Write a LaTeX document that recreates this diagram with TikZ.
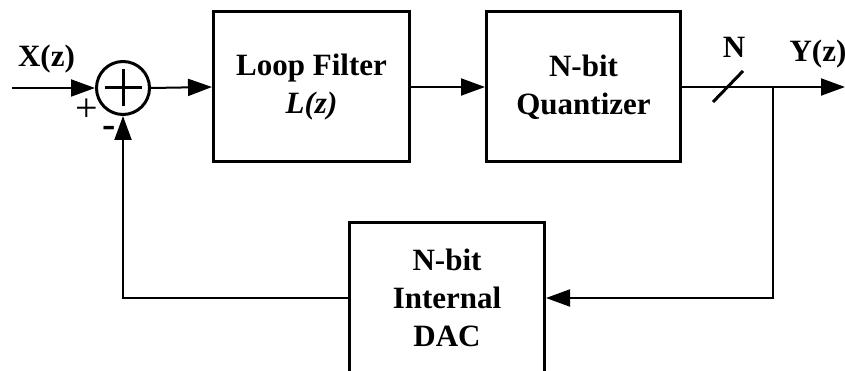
\documentclass[tikz,border=0pt]{standalone}
\usepackage{fontspec}
\setmainfont{Liberation Serif}
\usetikzlibrary{arrows.meta}
\begin{document}
\begin{tikzpicture}[x=1pt,y=-1pt,
  blk/.style={draw,line width=3pt,rectangle,minimum height=150pt,align=center,
    font=\fontsize{31}{38}\selectfont\bfseries},
  lbl/.style={font=\fontsize{31}{38}\selectfont\bfseries,anchor=base,inner sep=0pt},
  conn/.style={line width=2pt},
  arr/.style={conn,-{Triangle[length=24pt,width=17pt]}}]
\clip (0,0) rectangle (845,371);
\node[draw,circle,line width=3pt,minimum size=53pt,inner sep=0pt] (sum) at (123,88) {};
\draw[line width=3pt] ([xshift=-18.5pt]sum.center) -- ([xshift=18.5pt]sum.center)
  ([yshift=-18.5pt]sum.center) -- ([yshift=18.5pt]sum.center);
\node[blk,minimum width=196pt] (lf) at (311.5,87) {Loop Filter\\\textit{L(z)}};
\node[blk,minimum width=194pt] (q) at (583.5,87) {N-bit\\Quantizer};
\node[blk,minimum width=195pt,minimum height=150pt] (dac) at (447,298) {N-bit\\Internal\\DAC};
\coordinate (in) at (12,88);
\coordinate (out) at (845,87);
\coordinate (br) at (773,87);
\draw[arr] (in) -- (sum.west);
\draw[arr] (sum.east) -- (lf.west);
\draw[arr] (lf.east) -- (q.west);
\draw[arr] (q.east) -- (out);
\draw[arr] (br) |- (dac.east);
\draw[arr] (dac.west) -| (sum.south);
\coordinate (s1) at (713,102);
\coordinate (s2) at (743,71);
\draw[line width=3pt] (s1) -- (s2);
\node[lbl] (xl) at (46.5,67) {X(z)};
\node[lbl] (yl) at (818,62) {Y(z)};
\node[lbl] (nl) at (734,58) {N};
\node[font=\fontsize{40}{44}\selectfont,inner sep=0pt] (plus) at (87,110) {+};
\node[font=\fontsize{40}{44}\selectfont\bfseries,inner sep=0pt] (minus) at (109,132) {-};
\end{tikzpicture}
\end{document}
